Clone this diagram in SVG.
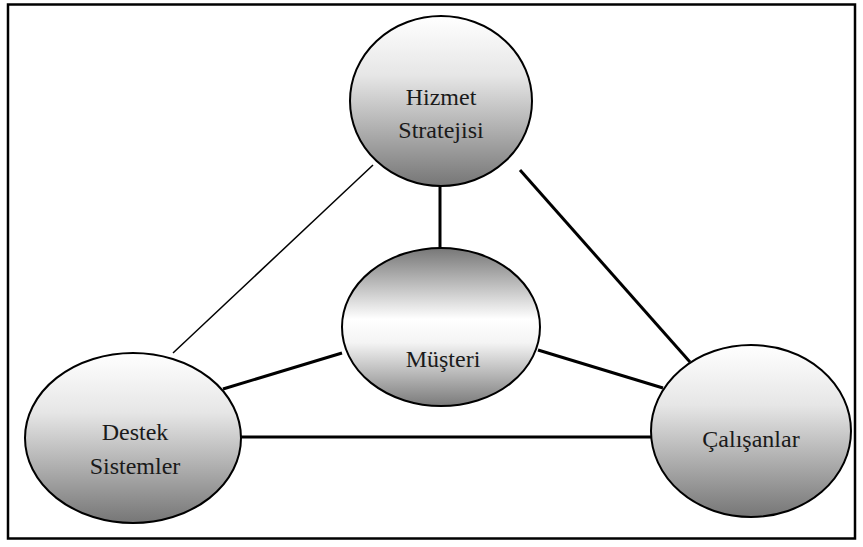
<svg xmlns="http://www.w3.org/2000/svg" width="863" height="547" viewBox="0 0 863 547">
<defs>
<linearGradient id="gDown" x1="0" y1="0" x2="0" y2="1">
<stop offset="0" stop-color="#ffffff"/>
<stop offset="0.35" stop-color="#e6e6e6"/>
<stop offset="1" stop-color="#767676"/>
</linearGradient>
<linearGradient id="gMid" x1="0" y1="0" x2="0" y2="1">
<stop offset="0" stop-color="#777777"/>
<stop offset="0.45" stop-color="#ffffff"/>
<stop offset="0.6" stop-color="#f4f4f4"/>
<stop offset="1" stop-color="#7a7a7a"/>
</linearGradient>
</defs>
<style>
.node ellipse{stroke:#000;stroke-width:2}
.lbl{font-family:"Liberation Serif","Times New Roman","DejaVu Serif",serif;font-size:24px;fill:#1a1a1a;text-anchor:middle}
.thick{stroke:#000;stroke-width:3;fill:none}
.thin{stroke:#000;stroke-width:1.5;fill:none}
</style>
<rect x="8" y="4.5" width="847" height="534" fill="#fff" stroke="#000" stroke-width="2.5"/>
<g id="connectors">
<line class="thin" x1="373" y1="165" x2="173" y2="353"/>
<line class="thick" x1="440" y1="185" x2="440" y2="248"/>
<line class="thick" x1="520" y1="170" x2="690" y2="362"/>
<line class="thick" x1="342" y1="353" x2="223" y2="389"/>
<line class="thick" x1="538" y1="350" x2="663" y2="388"/>
<line class="thick" x1="241" y1="437" x2="651" y2="437"/>
</g>
<g id="hizmet" class="node">
<ellipse cx="441" cy="101" rx="91" ry="85" fill="url(#gDown)"/>
<text class="lbl" x="441" y="105" font-family="Liberation Serif, serif">Hizmet</text>
<text class="lbl" x="441" y="138" font-family="Liberation Serif, serif">Stratejisi</text>
</g>
<g id="musteri" class="node">
<ellipse cx="441" cy="327" rx="99" ry="79" fill="url(#gMid)"/>
<text class="lbl" x="443" y="367" font-family="Liberation Serif, serif">Müşteri</text>
</g>
<g id="destek" class="node">
<ellipse cx="133" cy="438" rx="108" ry="85" fill="url(#gDown)"/>
<text class="lbl" x="135" y="440" font-family="Liberation Serif, serif">Destek</text>
<text class="lbl" x="135" y="474" font-family="Liberation Serif, serif">Sistemler</text>
</g>
<g id="calisanlar" class="node">
<ellipse cx="751" cy="431" rx="100" ry="86" fill="url(#gDown)"/>
<text class="lbl" x="751" y="447" font-family="Liberation Serif, serif">Çalışanlar</text>
</g>
</svg>
